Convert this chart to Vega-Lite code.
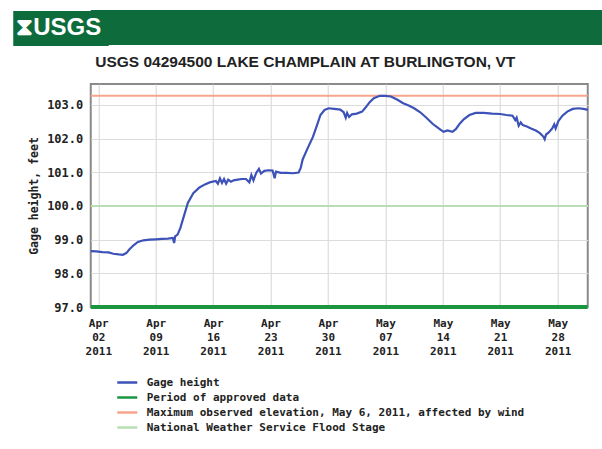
{
  "$schema": "https://vega.github.io/schema/vega-lite/v6.json",
  "background": "white",
  "padding": {"left": 4.75, "top": 3, "right": 0, "bottom": 0},
  "spacing": 0,
  "config": {"view": {"stroke": null}},
  "datasets": {
    "ref": [
      {"series": "Period of approved data", "t": "2011-04-01T02:00:00", "v": 97.0},
      {"series": "Period of approved data", "t": "2011-05-31T16:00:00", "v": 97.0},
      {"series": "Maximum observed elevation, May 6, 2011, affected by wind", "t": "2011-04-01T02:00:00", "v": 103.27},
      {"series": "Maximum observed elevation, May 6, 2011, affected by wind", "t": "2011-05-31T16:00:00", "v": 103.27},
      {"series": "National Weather Service Flood Stage", "t": "2011-04-01T02:00:00", "v": 100.0},
      {"series": "National Weather Service Flood Stage", "t": "2011-05-31T16:00:00", "v": 100.0}
    ],
    "gage": [
      {"series": "Gage height", "t": "2011-04-01T02:00:00", "v": 98.66},
      {"series": "Gage height", "t": "2011-04-01T18:00:00", "v": 98.65},
      {"series": "Gage height", "t": "2011-04-02T12:00:00", "v": 98.63},
      {"series": "Gage height", "t": "2011-04-03T06:00:00", "v": 98.62},
      {"series": "Gage height", "t": "2011-04-03T20:00:00", "v": 98.58},
      {"series": "Gage height", "t": "2011-04-04T12:00:00", "v": 98.56},
      {"series": "Gage height", "t": "2011-04-05T00:00:00", "v": 98.55},
      {"series": "Gage height", "t": "2011-04-05T10:00:00", "v": 98.60},
      {"series": "Gage height", "t": "2011-04-05T20:00:00", "v": 98.72},
      {"series": "Gage height", "t": "2011-04-06T08:00:00", "v": 98.84},
      {"series": "Gage height", "t": "2011-04-06T20:00:00", "v": 98.93},
      {"series": "Gage height", "t": "2011-04-07T12:00:00", "v": 98.98},
      {"series": "Gage height", "t": "2011-04-08T06:00:00", "v": 99.00},
      {"series": "Gage height", "t": "2011-04-09T00:00:00", "v": 99.01},
      {"series": "Gage height", "t": "2011-04-09T18:00:00", "v": 99.02},
      {"series": "Gage height", "t": "2011-04-10T12:00:00", "v": 99.03},
      {"series": "Gage height", "t": "2011-04-11T02:00:00", "v": 99.05},
      {"series": "Gage height", "t": "2011-04-11T06:00:00", "v": 98.90},
      {"series": "Gage height", "t": "2011-04-11T09:00:00", "v": 99.10},
      {"series": "Gage height", "t": "2011-04-11T16:00:00", "v": 99.15},
      {"series": "Gage height", "t": "2011-04-12T00:00:00", "v": 99.34},
      {"series": "Gage height", "t": "2011-04-12T12:00:00", "v": 99.75},
      {"series": "Gage height", "t": "2011-04-12T22:00:00", "v": 100.09},
      {"series": "Gage height", "t": "2011-04-13T14:00:00", "v": 100.38},
      {"series": "Gage height", "t": "2011-04-14T08:00:00", "v": 100.55},
      {"series": "Gage height", "t": "2011-04-15T00:00:00", "v": 100.64},
      {"series": "Gage height", "t": "2011-04-15T14:00:00", "v": 100.70},
      {"series": "Gage height", "t": "2011-04-16T08:00:00", "v": 100.74},
      {"series": "Gage height", "t": "2011-04-16T14:00:00", "v": 100.66},
      {"series": "Gage height", "t": "2011-04-16T20:00:00", "v": 100.82},
      {"series": "Gage height", "t": "2011-04-17T02:00:00", "v": 100.68},
      {"series": "Gage height", "t": "2011-04-17T08:00:00", "v": 100.80},
      {"series": "Gage height", "t": "2011-04-17T14:00:00", "v": 100.66},
      {"series": "Gage height", "t": "2011-04-17T20:00:00", "v": 100.78},
      {"series": "Gage height", "t": "2011-04-18T04:00:00", "v": 100.72},
      {"series": "Gage height", "t": "2011-04-18T12:00:00", "v": 100.76},
      {"series": "Gage height", "t": "2011-04-19T00:00:00", "v": 100.78},
      {"series": "Gage height", "t": "2011-04-19T12:00:00", "v": 100.80},
      {"series": "Gage height", "t": "2011-04-20T00:00:00", "v": 100.80},
      {"series": "Gage height", "t": "2011-04-20T10:00:00", "v": 100.70},
      {"series": "Gage height", "t": "2011-04-20T16:00:00", "v": 100.92},
      {"series": "Gage height", "t": "2011-04-20T22:00:00", "v": 100.76},
      {"series": "Gage height", "t": "2011-04-21T06:00:00", "v": 100.98},
      {"series": "Gage height", "t": "2011-04-21T14:00:00", "v": 101.10},
      {"series": "Gage height", "t": "2011-04-21T20:00:00", "v": 100.96},
      {"series": "Gage height", "t": "2011-04-22T06:00:00", "v": 101.04},
      {"series": "Gage height", "t": "2011-04-22T18:00:00", "v": 101.06},
      {"series": "Gage height", "t": "2011-04-23T06:00:00", "v": 101.05},
      {"series": "Gage height", "t": "2011-04-23T12:00:00", "v": 100.82},
      {"series": "Gage height", "t": "2011-04-23T16:00:00", "v": 101.02},
      {"series": "Gage height", "t": "2011-04-24T06:00:00", "v": 100.98},
      {"series": "Gage height", "t": "2011-04-25T00:00:00", "v": 100.98},
      {"series": "Gage height", "t": "2011-04-25T18:00:00", "v": 100.97},
      {"series": "Gage height", "t": "2011-04-26T10:00:00", "v": 100.99},
      {"series": "Gage height", "t": "2011-04-26T16:00:00", "v": 101.12},
      {"series": "Gage height", "t": "2011-04-26T22:00:00", "v": 101.38},
      {"series": "Gage height", "t": "2011-04-27T12:00:00", "v": 101.70},
      {"series": "Gage height", "t": "2011-04-28T04:00:00", "v": 102.05},
      {"series": "Gage height", "t": "2011-04-28T16:00:00", "v": 102.40},
      {"series": "Gage height", "t": "2011-04-29T02:00:00", "v": 102.70},
      {"series": "Gage height", "t": "2011-04-29T14:00:00", "v": 102.85},
      {"series": "Gage height", "t": "2011-04-30T02:00:00", "v": 102.90},
      {"series": "Gage height", "t": "2011-04-30T18:00:00", "v": 102.88},
      {"series": "Gage height", "t": "2011-05-01T12:00:00", "v": 102.86},
      {"series": "Gage height", "t": "2011-05-01T22:00:00", "v": 102.78},
      {"series": "Gage height", "t": "2011-05-02T04:00:00", "v": 102.62},
      {"series": "Gage height", "t": "2011-05-02T08:00:00", "v": 102.76},
      {"series": "Gage height", "t": "2011-05-02T14:00:00", "v": 102.64},
      {"series": "Gage height", "t": "2011-05-02T22:00:00", "v": 102.72},
      {"series": "Gage height", "t": "2011-05-03T12:00:00", "v": 102.74},
      {"series": "Gage height", "t": "2011-05-04T04:00:00", "v": 102.80},
      {"series": "Gage height", "t": "2011-05-04T14:00:00", "v": 102.92},
      {"series": "Gage height", "t": "2011-05-05T02:00:00", "v": 103.08},
      {"series": "Gage height", "t": "2011-05-05T14:00:00", "v": 103.20},
      {"series": "Gage height", "t": "2011-05-06T08:00:00", "v": 103.27},
      {"series": "Gage height", "t": "2011-05-07T00:00:00", "v": 103.27},
      {"series": "Gage height", "t": "2011-05-07T16:00:00", "v": 103.25},
      {"series": "Gage height", "t": "2011-05-08T10:00:00", "v": 103.16},
      {"series": "Gage height", "t": "2011-05-09T04:00:00", "v": 103.05},
      {"series": "Gage height", "t": "2011-05-09T20:00:00", "v": 102.98},
      {"series": "Gage height", "t": "2011-05-10T12:00:00", "v": 102.90},
      {"series": "Gage height", "t": "2011-05-11T06:00:00", "v": 102.78},
      {"series": "Gage height", "t": "2011-05-12T00:00:00", "v": 102.62},
      {"series": "Gage height", "t": "2011-05-12T18:00:00", "v": 102.44},
      {"series": "Gage height", "t": "2011-05-13T12:00:00", "v": 102.30},
      {"series": "Gage height", "t": "2011-05-14T02:00:00", "v": 102.20},
      {"series": "Gage height", "t": "2011-05-14T14:00:00", "v": 102.24},
      {"series": "Gage height", "t": "2011-05-15T04:00:00", "v": 102.20},
      {"series": "Gage height", "t": "2011-05-15T14:00:00", "v": 102.28},
      {"series": "Gage height", "t": "2011-05-16T02:00:00", "v": 102.45},
      {"series": "Gage height", "t": "2011-05-16T14:00:00", "v": 102.58},
      {"series": "Gage height", "t": "2011-05-17T06:00:00", "v": 102.70},
      {"series": "Gage height", "t": "2011-05-18T00:00:00", "v": 102.76},
      {"series": "Gage height", "t": "2011-05-19T00:00:00", "v": 102.76},
      {"series": "Gage height", "t": "2011-05-20T00:00:00", "v": 102.74},
      {"series": "Gage height", "t": "2011-05-21T00:00:00", "v": 102.73},
      {"series": "Gage height", "t": "2011-05-21T18:00:00", "v": 102.70},
      {"series": "Gage height", "t": "2011-05-22T12:00:00", "v": 102.68},
      {"series": "Gage height", "t": "2011-05-22T20:00:00", "v": 102.55},
      {"series": "Gage height", "t": "2011-05-23T00:00:00", "v": 102.62},
      {"series": "Gage height", "t": "2011-05-23T06:00:00", "v": 102.38},
      {"series": "Gage height", "t": "2011-05-23T12:00:00", "v": 102.48},
      {"series": "Gage height", "t": "2011-05-23T18:00:00", "v": 102.40},
      {"series": "Gage height", "t": "2011-05-24T06:00:00", "v": 102.36},
      {"series": "Gage height", "t": "2011-05-24T18:00:00", "v": 102.30},
      {"series": "Gage height", "t": "2011-05-25T08:00:00", "v": 102.24},
      {"series": "Gage height", "t": "2011-05-25T20:00:00", "v": 102.16},
      {"series": "Gage height", "t": "2011-05-26T06:00:00", "v": 102.06},
      {"series": "Gage height", "t": "2011-05-26T10:00:00", "v": 101.98},
      {"series": "Gage height", "t": "2011-05-26T14:00:00", "v": 102.12},
      {"series": "Gage height", "t": "2011-05-26T22:00:00", "v": 102.18},
      {"series": "Gage height", "t": "2011-05-27T08:00:00", "v": 102.30},
      {"series": "Gage height", "t": "2011-05-27T14:00:00", "v": 102.42},
      {"series": "Gage height", "t": "2011-05-27T18:00:00", "v": 102.30},
      {"series": "Gage height", "t": "2011-05-28T02:00:00", "v": 102.52},
      {"series": "Gage height", "t": "2011-05-28T14:00:00", "v": 102.68},
      {"series": "Gage height", "t": "2011-05-29T04:00:00", "v": 102.80},
      {"series": "Gage height", "t": "2011-05-29T20:00:00", "v": 102.88},
      {"series": "Gage height", "t": "2011-05-30T12:00:00", "v": 102.90},
      {"series": "Gage height", "t": "2011-05-31T04:00:00", "v": 102.88},
      {"series": "Gage height", "t": "2011-05-31T16:00:00", "v": 102.85}
    ]
  },
  "vconcat": [
    {
      "width": 512,
      "height": 35,
      "view": {"fill": "#0d6b3c", "stroke": null},
      "data": {"values": [{"logo": "⧗USGS", "pos": 0.5}]},
      "mark": {"type": "point", "opacity": 0},
      "encoding": {
        "y": {
          "field": "pos", "type": "quantitative", "scale": {"domain": [0, 1]},
          "axis": {
            "values": [0.5], "labelExpr": "'⧗USGS'", "labelColor": "white", "labelFont": "Liberation Sans", "labelFontWeight": "bold",
            "labelFontSize": 24, "labelAlign": "left", "labelBaseline": "middle", "labelPadding": 14.5,
            "tickSize": 60.5, "tickWidth": 35, "tickColor": "#0d6b3c", "tickCap": "square",
            "domain": false, "grid": false, "title": null
          }
        }
      }
    },
    {
      "width": 497,
      "height": 223,
      "view": {"stroke": "#8a8a8a", "strokeWidth": 2, "fill": "white"},
      "title": {"text": "USGS 04294500 LAKE CHAMPLAIN AT BURLINGTON, VT", "font": "Liberation Sans", "fontSize": 15.5, "fontWeight": "bold", "color": "#222222", "offset": 14, "dx": -34, "anchor": "middle"},
      "encoding": {
        "x": {
          "field": "t", "type": "temporal",
          "scale": {"domain": ["2011-04-01T02:00:00", "2011-05-31T16:00:00"]},
          "axis": {
            "values": [
              {"year": 2011, "month": 4, "date": 2},
              {"year": 2011, "month": 4, "date": 9},
              {"year": 2011, "month": 4, "date": 16},
              {"year": 2011, "month": 4, "date": 23},
              {"year": 2011, "month": 4, "date": 30},
              {"year": 2011, "month": 5, "date": 7},
              {"year": 2011, "month": 5, "date": 14},
              {"year": 2011, "month": 5, "date": 21},
              {"year": 2011, "month": 5, "date": 28}
            ],
            "labelExpr": "[timeFormat(datum.value, '%b'), timeFormat(datum.value, '%d'), timeFormat(datum.value, '%Y')]",
            "labelFont": "DejaVu Sans Mono", "labelFontWeight": "bold", "labelFontSize": 11, "labelLineHeight": 14,
            "labelColor": "#222222", "labelPadding": 10, "labelBaseline": "top",
            "labelOverlap": false, "labelFlush": false,
            "ticks": false, "domain": false, "grid": true, "gridColor": "#dcdcdc", "gridWidth": 1.2, "title": null
          }
        },
        "y": {
          "field": "v", "type": "quantitative",
          "scale": {"domain": [97, 103.62], "nice": false, "zero": false},
          "axis": {
            "values": [97, 98, 99, 100, 101, 102, 103], "format": ".1f",
            "labelFont": "DejaVu Sans Mono", "labelFontWeight": "bold", "labelFontSize": 12, "labelColor": "#222222", "labelPadding": 8,
            "ticks": false, "domain": false, "grid": true, "gridColor": "#dcdcdc", "gridWidth": 1.2,
            "title": "Gage height, feet", "titleFont": "DejaVu Sans Mono", "titleFontSize": 11.5, "titleFontWeight": "bold",
            "titleColor": "#222222", "titlePadding": 7
          }
        },
        "color": {
          "field": "series", "type": "nominal",
          "scale": {
            "domain": ["Gage height", "Period of approved data", "Maximum observed elevation, May 6, 2011, affected by wind", "National Weather Service Flood Stage"],
            "range": ["#3d52b8", "#1a9641", "#f7a58c", "#b7dfb3"]
          },
          "legend": {
            "orient": "none", "legendX": 25, "legendY": 365, "title": null, "direction": "vertical",
            "symbolType": "stroke", "symbolSize": 400, "symbolStrokeWidth": 2.5,
            "labelFont": "DejaVu Sans Mono", "labelFontWeight": "bold", "labelFontSize": 11, "labelColor": "#222222",
            "labelOffset": 8, "rowPadding": 0, "clipHeight": 15, "labelLimit": 600
          }
        }
      },
      "layer": [
        {
          "data": {"name": "ref"},
          "transform": [{"filter": "datum.series !== 'Period of approved data'"}],
          "mark": {"type": "line", "strokeWidth": 2}
        },
        {
          "data": {"name": "ref"},
          "transform": [{"filter": "datum.series === 'Period of approved data'"}],
          "mark": {"type": "line", "strokeWidth": 4}
        },
        {
          "data": {"name": "gage"},
          "mark": {"type": "line", "strokeWidth": 2.2}
        }
      ]
    }
  ]
}
